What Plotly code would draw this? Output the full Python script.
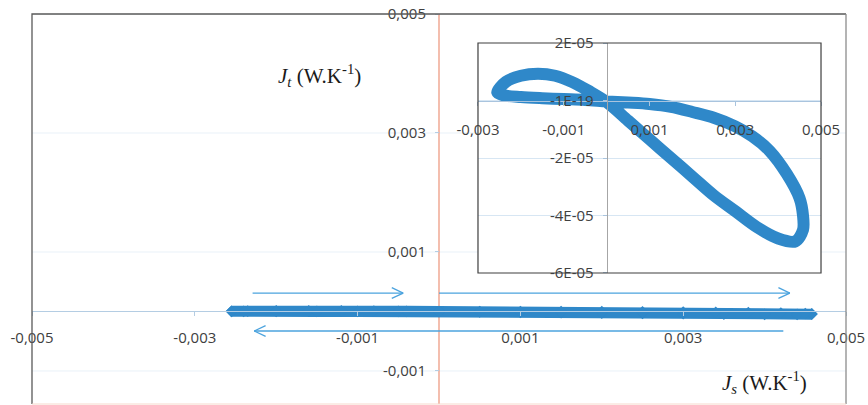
import plotly.graph_objects as go

# Heat-flux cycle: Js (W/K) against Jt (W/K), one closed loop
js = [-0.00255, -0.00235, -0.0020, -0.0016, -0.0012, -0.0008, -0.0004, 0.0000,
      0.0005, 0.0010, 0.0015, 0.0020, 0.0025, 0.0030, 0.0035, 0.0040, 0.0044,
      0.00458, 0.00458, 0.0045, 0.0042, 0.0038, 0.0034, 0.0030, 0.0025, 0.0020,
      0.0015, 0.0010, 0.0005, 0.0000, -0.0005, -0.0010, -0.0015, -0.0020,
      -0.0024, -0.00255]
jt = [2.8e-06, 6.5e-06, 8.6e-06, 9.3e-06, 8.6e-06, 6.4e-06, 3.2e-06, -0.5e-06,
      -7.0e-06, -1.35e-05, -2.0e-05, -2.65e-05, -3.3e-05, -3.85e-05, -4.4e-05,
      -4.8e-05, -4.9e-05, -4.5e-05, -4.0e-05, -3.4e-05, -2.55e-05, -1.75e-05,
      -1.25e-05, -9.0e-06, -6.0e-06, -4.0e-06, -2.2e-06, -1.2e-06, -0.7e-06,
      -0.3e-06, 0.2e-06, 0.5e-06, 0.8e-06, 1.2e-06, 1.8e-06, 2.8e-06]

main_x_ticks = [-0.005, -0.003, -0.001, 0.001, 0.003, 0.005]
main_x_labels = ["-0,005", "-0,003", "-0,001", "0,001", "0,003", "0,005"]
main_y_ticks = [0.005, 0.003, 0.001, -0.001]
main_y_labels = ["0,005", "0,003", "0,001", "-0,001"]
inset_x_ticks = [-0.003, -0.001, 0.001, 0.003, 0.005]
inset_x_labels = ["-0,003", "-0,001", "0,001", "0,003", "0,005"]
inset_y_ticks = [2e-05, 0, -2e-05, -4e-05, -6e-05]
inset_y_labels = ["2E-05", "-1E-19", "-2E-05", "-4E-05", "-6E-05"]

# direction arrows: (start x, end x, y) in main-axis units
arrows = [(-0.00229, -0.00044, 0.00031),
          (0.0, 0.00431, 0.00031),
          (0.00423, -0.00227, -0.000328)]

MAIN_X = [-0.005, 0.005]
MAIN_Y = [-0.001555, 0.005]
INSET_X = [-0.003, 0.005]
INSET_Y = [-6e-05, 2e-05]
INSET_XDOM = [0.5479, 0.9693]
INSET_YDOM = [0.3359, 0.9256]

BLUE = "#2f88c9"
ARROW = "#4ba3de"
TICKFONT = dict(family="Open Sans, sans-serif", size=15, color="#404040")


def frac(v, rng, dom=(0.0, 1.0)):
    return dom[0] + (v - rng[0]) / (rng[1] - rng[0]) * (dom[1] - dom[0])


fig = go.Figure()

# main view: the loop collapses to a band on the Js axis
fig.add_trace(go.Scatter(
    x=js, y=jt, mode="lines+markers", xaxis="x", yaxis="y",
    line=dict(color=BLUE, width=11),
    marker=dict(symbol="diamond", size=9, color=BLUE),
    hoverinfo="skip", showlegend=False))

# inset: same loop at its own scale
fig.add_trace(go.Scatter(
    x=js, y=jt, mode="lines", xaxis="x2", yaxis="y2",
    line=dict(color=BLUE, width=12, shape="spline", smoothing=0.9),
    hoverinfo="skip", showlegend=False))

shapes = []
# faint horizontal grid of the main view
for v in main_y_ticks:
    shapes.append(dict(type="line", xref="x domain", yref="y", x0=0, x1=1,
                       y0=v, y1=v, line=dict(color="#e9f1f8", width=1),
                       layer="below"))
# vertical Jt axis line of the main view (at Js = 0), under the data
shapes.append(dict(type="line", xref="x", yref="y domain", x0=0, x1=0,
                   y0=0, y1=1, line=dict(color="#ec9379", width=1.2),
                   layer="below"))
# inset panel background and frame
shapes.append(dict(type="rect", xref="x2 domain", yref="y2 domain",
                   x0=0, x1=1, y0=0, y1=1, fillcolor="white",
                   line=dict(width=0), layer="below"))
shapes.append(dict(type="rect", xref="x2 domain", yref="y2 domain",
                   x0=0, x1=1, y0=0, y1=1,
                   line=dict(color="#3f3f3f", width=1.2)))
# outer frame: left, top, right, faint bottom
shapes.append(dict(type="path", xref="x domain", yref="y domain",
                   path="M 0 0 L 0 1 L 1 1", line=dict(color="#595959", width=1.3)))
shapes.append(dict(type="line", xref="x domain", yref="y domain",
                   x0=1, x1=1, y0=0, y1=1, line=dict(color="#8c8c8c", width=1.3)))
shapes.append(dict(type="line", xref="x domain", yref="y domain",
                   x0=0, x1=1, y0=0, y1=0, line=dict(color="#f6d9cc", width=1)))

# arrows with open chevron heads
HEAD_DX = 0.00014
HEAD_DY = 0.00009
for xs, xe, ya in arrows:
    sgn = 1 if xe > xs else -1
    shapes.append(dict(type="line", xref="x", yref="y", x0=xs, x1=xe, y0=ya, y1=ya,
                       line=dict(color=ARROW, width=1.3)))
    for d in (1, -1):
        shapes.append(dict(type="line", xref="x", yref="y",
                           x0=xe - sgn * HEAD_DX, y0=ya + d * HEAD_DY, x1=xe, y1=ya,
                           line=dict(color=ARROW, width=1.3)))

annotations = [
    dict(x=-0.00147, y=0.00397, xref="x", yref="y", showarrow=False,
         text="<i>J</i><sub><i>t</i></sub> (W.K<sup>-1</sup>)",
         font=dict(family="Liberation Serif, serif", size=21, color="#1a1a1a")),
    dict(x=0.0040, y=-0.00119, xref="x", yref="y", showarrow=False,
         text="<i>J</i><sub><i>s</i></sub> (W.K<sup>-1</sup>)",
         font=dict(family="Liberation Serif, serif", size=21, color="#1a1a1a")),
]

fig.update_layout(
    width=868, height=405, autosize=False,
    margin=dict(l=32, r=22, t=14, b=1, pad=0, autoexpand=False),
    paper_bgcolor="white", plot_bgcolor="white",
    shapes=shapes, annotations=annotations, showlegend=False,
    xaxis=dict(domain=[0, 1], range=MAIN_X, anchor="free", automargin=False,
               position=frac(0, MAIN_Y), showgrid=False, zeroline=False,
               showline=True, linecolor="#b4cde3", linewidth=1,
               ticks="outside", ticklen=4, tickcolor="#b4cde3",
               tickvals=main_x_ticks, ticktext=main_x_labels,
               ticklabelstandoff=9, tickfont=TICKFONT),
    yaxis=dict(domain=[0, 1], range=MAIN_Y, anchor="free", automargin=False,
               position=frac(0, MAIN_X), showgrid=False, zeroline=False,
               showline=False,
               ticks="outside", ticklen=4, tickcolor="#b4cde3",
               tickvals=main_y_ticks, ticktext=main_y_labels,
               ticklabelstandoff=6, tickfont=TICKFONT),
    xaxis2=dict(domain=INSET_XDOM, range=INSET_X, anchor="free", automargin=False,
                position=frac(0, INSET_Y, INSET_YDOM), showgrid=False,
                zeroline=False, showline=True, linecolor="#a9c4de", linewidth=1,
                ticks="outside", ticklen=4, tickcolor="#a9c4de",
                tickvals=inset_x_ticks, ticktext=inset_x_labels,
                ticklabelstandoff=11, tickfont=TICKFONT),
    yaxis2=dict(domain=INSET_YDOM, range=INSET_Y, anchor="free", automargin=False,
                position=frac(0, INSET_X, INSET_XDOM), showgrid=True,
                gridcolor="#d7e6f3", gridwidth=1, zeroline=False,
                showline=True, linecolor="#a6a6a6", linewidth=1,
                ticks="outside", ticklen=4, tickcolor="#a9c4de",
                tickvals=inset_y_ticks, ticktext=inset_y_labels,
                ticklabelstandoff=6, tickfont=TICKFONT),
)

fig.write_html("out.html")
